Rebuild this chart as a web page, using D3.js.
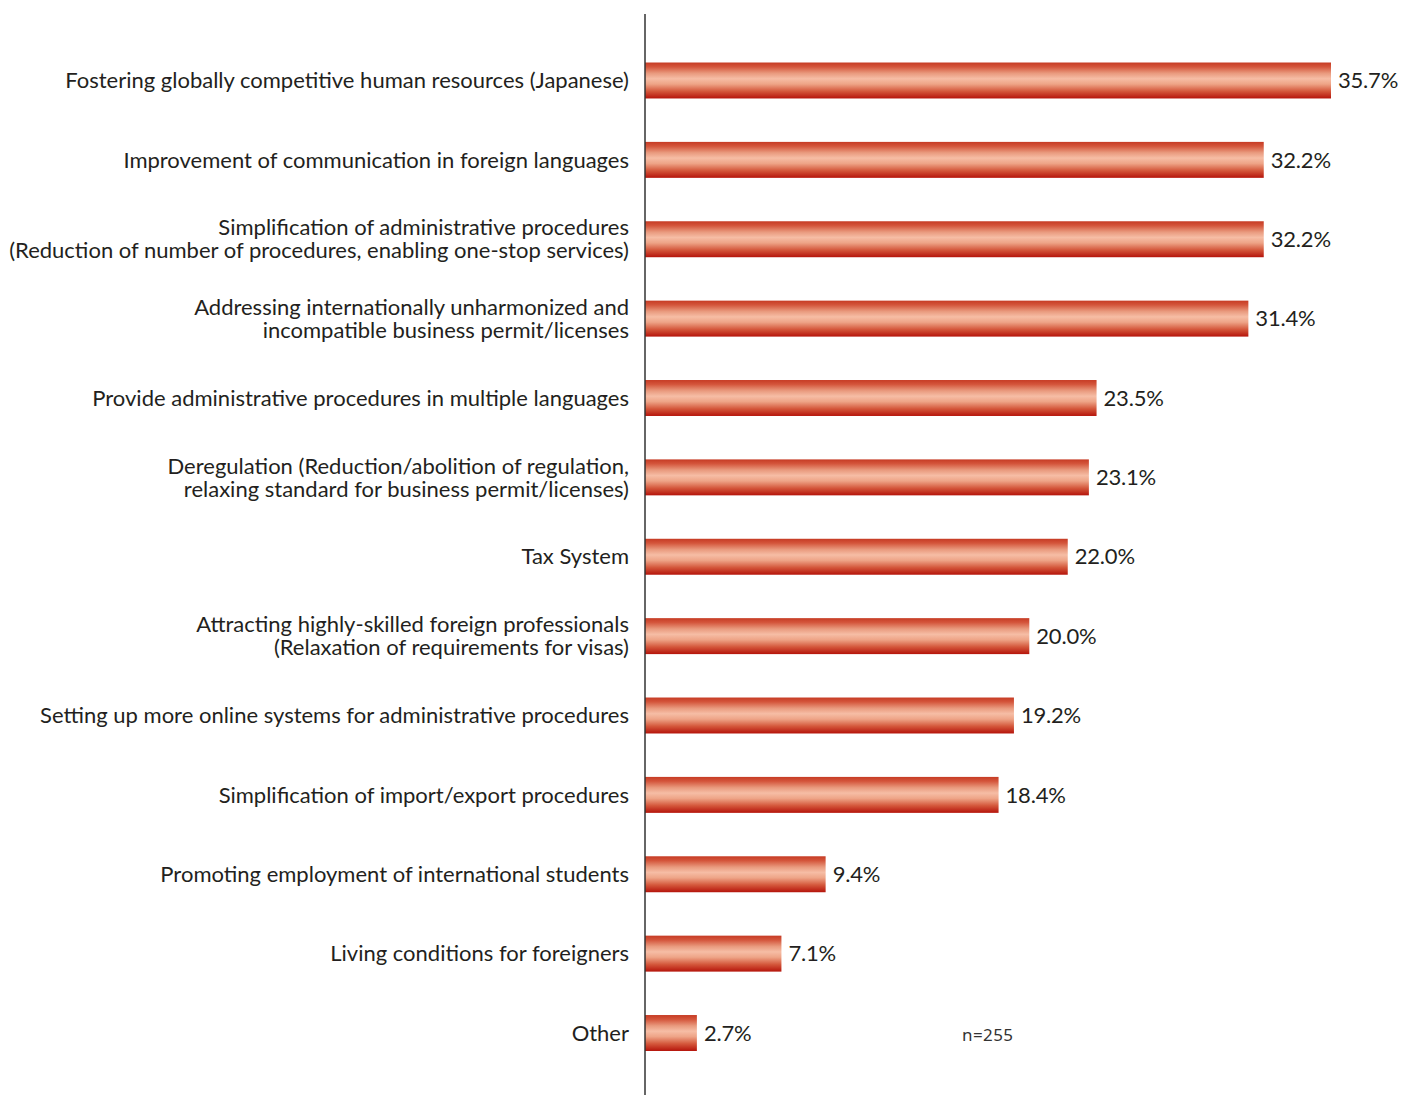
<!DOCTYPE html>
<html><head><meta charset="utf-8">
<script src="https://cdn.jsdelivr.net/npm/d3@7"></script>
<style>
  body { margin: 0; background: #fff; }
  .cat, .val { font-family: Lato, "Noto Sans", sans-serif; font-size: 22px; fill: #231f20; }
  .val { letter-spacing: -0.2px; }
  .note { font-family: "Noto Sans", sans-serif; font-size: 17px; letter-spacing: 0.4px; fill: #333; }
</style>
</head><body>
<svg id="chart" width="1401" height="1095"></svg>
<script>
// Survey responses: share of companies selecting each item (multiple answers)
const categories = [
  ["Fostering globally competitive human resources (Japanese)"],
  ["Improvement of communication in foreign languages"],
  ["Simplification of administrative procedures", "(Reduction of number of procedures, enabling one-stop services)"],
  ["Addressing internationally unharmonized and", "incompatible business permit/licenses"],
  ["Provide administrative procedures in multiple languages"],
  ["Deregulation (Reduction/abolition of regulation,", "relaxing standard for business permit/licenses)"],
  ["Tax System"],
  ["Attracting highly-skilled foreign professionals", "(Relaxation of requirements for visas)"],
  ["Setting up more online systems for administrative procedures"],
  ["Simplification of import/export procedures"],
  ["Promoting employment of international students"],
  ["Living conditions for foreigners"],
  ["Other"]
];
const values = [35.7, 32.2, 32.2, 31.4, 23.5, 23.1, 22.0, 20.0, 19.2, 18.4, 9.4, 7.1, 2.7];
const sampleNote = "n=255";

const svg = d3.select("#chart");
const axisX = 645;

const x = d3.scaleLinear().domain([0, 35.7]).range([axisX, 1331]);
const y = d3.scaleBand()
  .domain(d3.range(values.length))
  .range([40.8, 1072.7])
  .paddingInner(0.547)
  .paddingOuter(0.2735);

// Cylindrical red gradient for the bars
const grad = svg.append("defs").append("linearGradient")
  .attr("id", "barGrad").attr("x1", 0).attr("y1", 0).attr("x2", 0).attr("y2", 1);
[
  [0, "#c63b24"], [0.12, "#d4553b"], [0.3, "#e99a7e"], [0.45, "#f6bda5"],
  [0.6, "#eea487"], [0.8, "#d4573b"], [1, "#b5140b"]
].forEach(([o, c]) => grad.append("stop").attr("offset", o).attr("stop-color", c));

// Bars
svg.append("g").selectAll("rect")
  .data(values)
  .join("rect")
  .attr("x", x(0))
  .attr("y", (d, i) => y(i))
  .attr("width", d => x(d) - x(0))
  .attr("height", y.bandwidth())
  .attr("fill", "url(#barGrad)");

// Vertical baseline
svg.append("line")
  .attr("x1", axisX).attr("x2", axisX)
  .attr("y1", 14).attr("y2", 1095)
  .attr("stroke", "#333").attr("stroke-width", 1.5);

// Category labels (one or two lines, right-aligned against the axis)
const lineGap = 23;
svg.append("g").selectAll("text")
  .data(categories)
  .join("text")
  .attr("class", "cat")
  .attr("text-anchor", "end")
  .each(function (lines, i) {
    const cy = y(i) + y.bandwidth() / 2;
    const start = cy - (lines.length - 1) * lineGap / 2;
    d3.select(this).selectAll("tspan")
      .data(lines)
      .join("tspan")
      .attr("x", 629)
      .attr("y", (l, j) => start + j * lineGap)
      .attr("dy", "0.35em")
      .text(l => l);
  });

// Value labels
svg.append("g").selectAll("text")
  .data(values)
  .join("text")
  .attr("class", "val")
  .attr("x", d => x(d) + 7)
  .attr("y", (d, i) => y(i) + y.bandwidth() / 2)
  .attr("dy", "0.35em")
  .text(d => d.toFixed(1) + "%");

// Sample size
svg.append("text")
  .attr("class", "note")
  .attr("x", 962)
  .attr("y", y(values.length - 1) + y.bandwidth() / 2 + 2)
  .attr("dy", "0.35em")
  .text(sampleNote);
</script></body></html>
